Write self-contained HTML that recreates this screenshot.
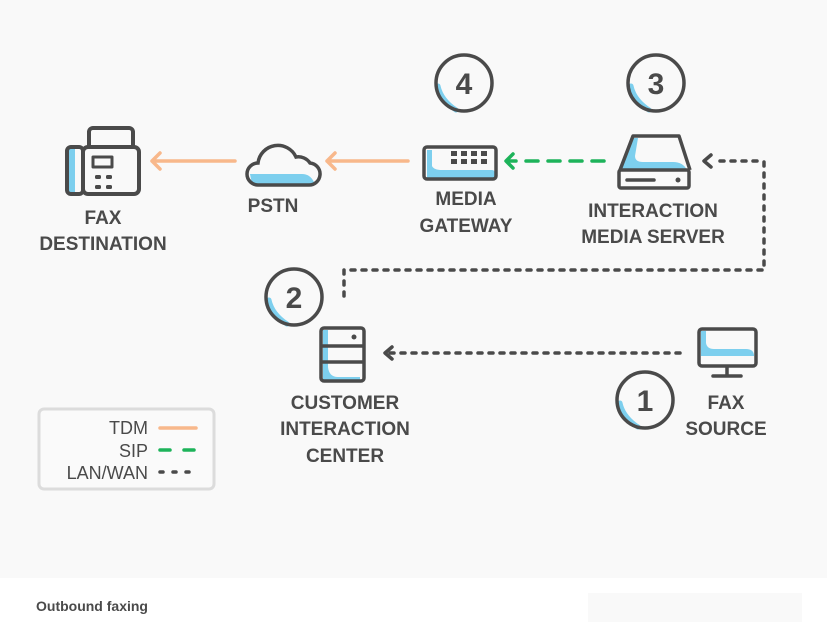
<!DOCTYPE html>
<html><head><meta charset="utf-8"><style>
html,body{margin:0;padding:0;background:#fff;}
svg{display:block;}
text{font-family:"Liberation Sans",sans-serif;}
.lb{font-weight:bold;font-size:19px;fill:#4a4a4a;text-anchor:middle;}
.num{font-weight:bold;font-size:30px;fill:#4a4a4a;text-anchor:middle;}
</style></head><body>
<svg width="827" height="640" viewBox="0 0 827 640">
<rect x="0" y="0" width="827" height="578" fill="#f9f9f9"/>
<rect x="588" y="593" width="214" height="29" fill="#f9f9f9"/>
<text x="36" y="611" font-size="14" fill="#4a4a4a" font-weight="bold">Outbound faxing</text>

<!-- Fax destination -->
<g stroke="#4a4a4a" stroke-width="4" fill="none" stroke-linejoin="round">
 <path d="M69 149 h6 v44 h-6 z" fill="#7dcfee" stroke="none"/>
 <rect x="67" y="147" width="16" height="47" rx="4"/>
 <rect x="83" y="147" width="56" height="47" rx="5"/>
 <path d="M89 147 v-15 a4 4 0 0 1 4 -4 h36 a4 4 0 0 1 4 4 v15"/>
 <rect x="93" y="157" width="19" height="10" stroke-width="3"/>
</g>
<g fill="#4a4a4a"><rect x="95" y="175" width="6" height="4" rx="1.5"/><rect x="106" y="175" width="6" height="4" rx="1.5"/><rect x="95" y="185" width="6" height="4" rx="1.5"/><rect x="106" y="185" width="6" height="4" rx="1.5"/></g>
<text class="lb" x="103" y="224">FAX</text>
<text class="lb" x="103" y="250">DESTINATION</text>

<!-- orange arrows -->
<g stroke="#f8b88b" stroke-width="3.5" fill="none" stroke-linecap="round" stroke-linejoin="round">
 <path d="M235 161 H152 M160 153 L152 161 L160 169"/>
 <path d="M408 161 H327 M335 153 L327 161 L335 169"/>
</g>

<!-- PSTN cloud -->
<path d="M250 174 h52 q8 0 12 8 v2 h-62 z" fill="#7dcfee"/>
<path d="M258 185 h50 a11 11 0 0 0 2 -22 a14 14 0 0 0 -14 -6 a20 20 0 0 0 -38 6 a11 11 0 0 0 0 22 z" fill="none" stroke="#4a4a4a" stroke-width="3.5"/>
<text class="lb" x="273" y="212">PSTN</text>

<!-- Media gateway -->
<path d="M427 150 h5 v16 q2 4 10 4 h50 q3 0 3 4 v4 h-68 z" fill="#7dcfee"/>
<rect x="424" y="147" width="72" height="32" rx="3" fill="none" stroke="#4a4a4a" stroke-width="3.5"/>
<g fill="#4a4a4a">
 <rect x="451" y="151" width="6" height="5"/><rect x="461" y="151" width="6" height="5"/><rect x="471" y="151" width="6" height="5"/><rect x="481" y="151" width="6" height="5"/>
 <rect x="451" y="159" width="6" height="5"/><rect x="461" y="159" width="6" height="5"/><rect x="471" y="159" width="6" height="5"/><rect x="481" y="159" width="6" height="5"/>
</g>
<text class="lb" x="466" y="205">MEDIA</text>
<text class="lb" x="466" y="232">GATEWAY</text>

<!-- circles -->
<g>
 <path d="M438 86 q3 14 18 24" stroke="#7dcfee" stroke-width="5" fill="none" stroke-linecap="round"/>
 <circle cx="464" cy="83" r="28" fill="none" stroke="#4a4a4a" stroke-width="3.5"/>
 <text class="num" x="464" y="94">4</text>
 <path d="M631 86 q3 14 18 24" stroke="#7dcfee" stroke-width="5" fill="none" stroke-linecap="round"/>
 <circle cx="656" cy="83" r="28" fill="none" stroke="#4a4a4a" stroke-width="3.5"/>
 <text class="num" x="656" y="94">3</text>
 <path d="M269 300 q3 14 18 24" stroke="#7dcfee" stroke-width="5" fill="none" stroke-linecap="round"/>
 <circle cx="294" cy="297" r="28" fill="none" stroke="#4a4a4a" stroke-width="3.5"/>
 <text class="num" x="294" y="308">2</text>
 <path d="M620 403 q3 14 18 24" stroke="#7dcfee" stroke-width="5" fill="none" stroke-linecap="round"/>
 <circle cx="645" cy="400" r="28" fill="none" stroke="#4a4a4a" stroke-width="3.5"/>
 <text class="num" x="645" y="411">1</text>
</g>

<!-- green dashed -->
<g stroke="#1db35a" stroke-width="3.5" fill="none" stroke-linecap="round" stroke-linejoin="round">
 <path d="M604 161 H507" stroke-dasharray="12 10"/>
 <path d="M513 154 L506 161 L513 168"/>
</g>

<!-- Interaction media server -->
<path d="M633 138 h5 l-3 18 q0 6 8 6 h30 q10 0 14 8 h-66 z" fill="#7dcfee"/>
<path d="M620 170 L633 136 h46 L690 170" fill="none" stroke="#4a4a4a" stroke-width="3.5" stroke-linejoin="round"/>
<rect x="619" y="170" width="70" height="18" rx="2" fill="none" stroke="#4a4a4a" stroke-width="3.5"/>
<line x1="627" y1="180" x2="654" y2="180" stroke="#4a4a4a" stroke-width="3.5" stroke-linecap="round"/>
<circle cx="678" cy="180" r="2.5" fill="#4a4a4a"/>
<text class="lb" x="653" y="217">INTERACTION</text>
<text class="lb" x="653" y="243">MEDIA SERVER</text>

<!-- LAN dotted -->
<g stroke="#4a4a4a" stroke-width="3.5" fill="none" stroke-linecap="round" stroke-linejoin="round">
 <path d="M764 162 V270 H344 V303" stroke-dasharray="4 7"/>
 <path d="M757 161 H715" stroke-dasharray="4 7"/>
 <path d="M711 155 L704 161 L711 167"/>
 <path d="M680 353 H388" stroke-dasharray="4 7"/>
 <path d="M392 347 L385 353 L392 359"/>
</g>

<!-- CIC icon -->
<path d="M323 330 h5 v50 h-5 z M328 367 q1 10 10 10 h22 v4 h-32 z" fill="#7dcfee"/>
<rect x="321" y="328" width="43" height="53" rx="3" fill="none" stroke="#4a4a4a" stroke-width="3.5"/>
<line x1="321" y1="346" x2="364" y2="346" stroke="#4a4a4a" stroke-width="3.5"/>
<line x1="321" y1="362" x2="364" y2="362" stroke="#4a4a4a" stroke-width="3.5"/>
<circle cx="354" cy="337" r="2.5" fill="#4a4a4a"/>
<text class="lb" x="345" y="409">CUSTOMER</text>
<text class="lb" x="345" y="435">INTERACTION</text>
<text class="lb" x="345" y="462">CENTER</text>

<!-- monitor -->
<path d="M701 331 h5 v12 q1 6 8 6 h32 q8 0 8 7 h-53 z" fill="#7dcfee"/>
<rect x="699" y="329" width="57" height="37" rx="3" fill="none" stroke="#4a4a4a" stroke-width="3.5"/>
<line x1="727" y1="366" x2="727" y2="375" stroke="#4a4a4a" stroke-width="3.5"/>
<line x1="713" y1="376" x2="741" y2="376" stroke="#4a4a4a" stroke-width="3.5" stroke-linecap="round"/>
<text class="lb" x="726" y="409">FAX</text>
<text class="lb" x="726" y="435">SOURCE</text>

<!-- legend -->
<rect x="39" y="409" width="175" height="80" rx="5" fill="#fafafa" stroke="#dcdcdc" stroke-width="3"/>
<g font-size="18" fill="#4a4a4a" text-anchor="end">
 <text x="148" y="434">TDM</text>
 <text x="148" y="457">SIP</text>
 <text x="148" y="479">LAN/WAN</text>
</g>
<line x1="160" y1="428" x2="196" y2="428" stroke="#f8b88b" stroke-width="3.5" stroke-linecap="round"/>
<path d="M160 450 H196" stroke="#1db35a" stroke-width="3.5" stroke-dasharray="10 14" stroke-linecap="round"/>
<path d="M160 472 H196" stroke="#4a4a4a" stroke-width="3.5" stroke-dasharray="3 10" stroke-linecap="round"/>
</svg>
</body></html>
